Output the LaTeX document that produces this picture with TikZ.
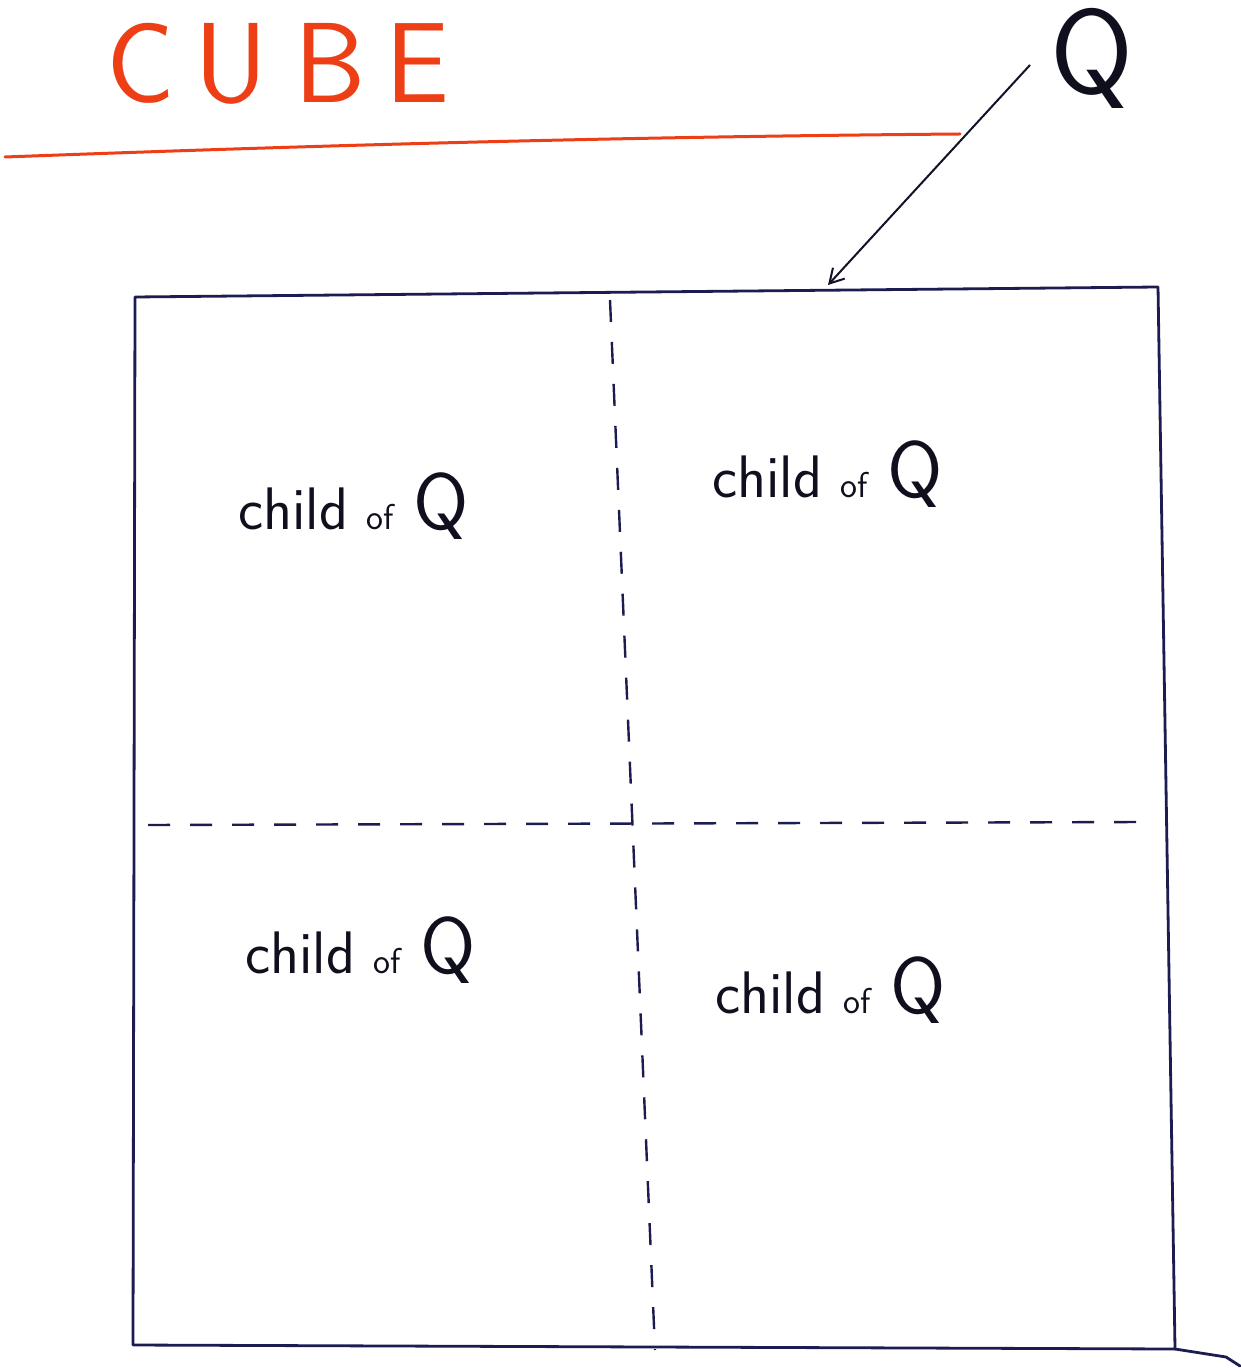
\documentclass[tikz,border=0pt]{standalone}
\usetikzlibrary{arrows.meta}
\definecolor{ink}{RGB}{28,28,80}
\definecolor{txt}{RGB}{15,15,30}
\definecolor{redink}{RGB}{238,62,22}
\tikzset{
  frame/.style={draw=ink, line width=1.4pt, line join=round, line cap=round},
  divider/.style={draw=ink, line width=1.2pt, dash pattern=on 11pt off 10pt},
  childlbl/.style={anchor=base west, inner sep=0pt, text=txt, font=\sffamily},
}
\newcommand{\childtext}{{\fontsize{30}{30}\selectfont child}\hspace{9pt}{\fontsize{18}{18}\selectfont of}\hspace{10pt}{\fontsize{40}{40}\selectfont Q}}
\begin{document}
\begin{tikzpicture}[x=0.5pt,y=-0.5pt]
\useasboundingbox (0,0) rectangle (1240,1368);
% title
\node[anchor=base west, inner sep=0pt, text=redink, font=\sffamily\fontsize{57}{57}\selectfont] (title) at (106,103) {C\hspace{10pt}U\hspace{13pt}B\hspace{10pt}E};
\draw[redink, line width=1.5pt, line cap=round] (5,157) .. controls (300,146) and (600,137) .. (960,134);
% Q
\node[anchor=base, inner sep=0pt, text=txt, font=\sffamily\fontsize{60}{60}\selectfont] (Q) at (1092,94) {Q};
\coordinate (qstart) at (1030,65);
\coordinate (target) at (828,285);
\draw[txt!80!ink, line width=1pt, -{Straight Barb[length=7pt,width=8pt]}] (qstart) -- (target);
% frame
\coordinate (tl) at (135,297);
\coordinate (tr) at (1158,287);
\coordinate (br) at (1175,1349);
\coordinate (bl) at (133,1345);
\coordinate (brx) at (1226,1357);
\coordinate (brend) at (1240,1366);
\draw[frame] (tl) -- (tr) -- (br) -- (bl) -- cycle;
\draw[frame] (br) -- (brx) -- (brend);
% dividers
\coordinate (vt) at (610,300);
\coordinate (vb) at (655,1350);
\coordinate (hl) at (148,825);
\coordinate (hr) at (1142,822);
\draw[divider] (vt) -- (vb);
\draw[divider] (hl) -- (hr);
% labels
\node[childlbl] (c1) at (238,530) {\childtext};
\node[childlbl] (c2) at (712,497) {\childtext};
\node[childlbl] (c3) at (245,973) {\childtext};
\node[childlbl] (c4) at (715,1013) {\childtext};
\end{tikzpicture}
\end{document}
